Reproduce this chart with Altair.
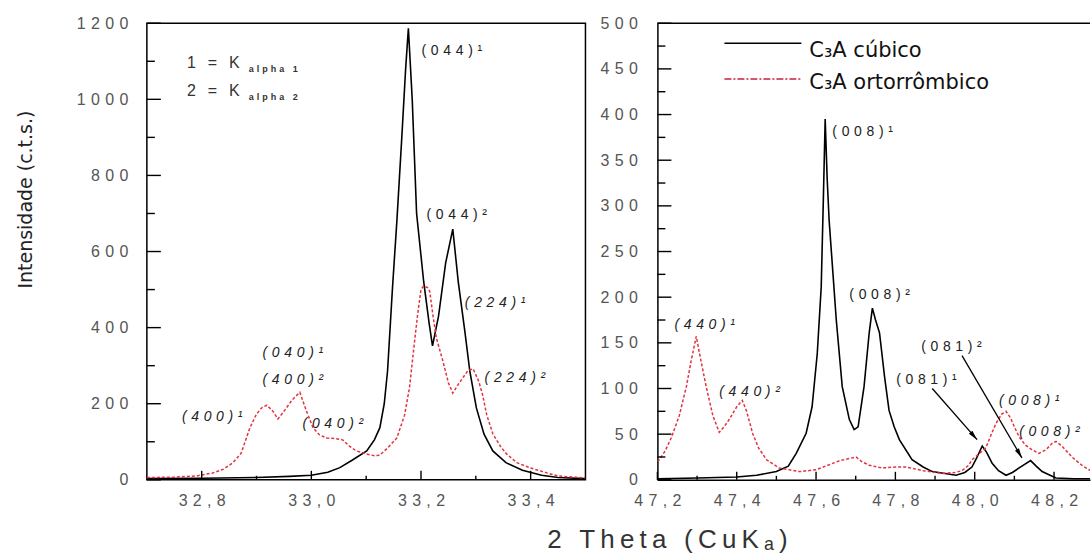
import math
import altair as alt
import pandas as pd

# ---------------- data ----------------
# left panel : 2theta 32.7 - 33.5
L_CUB_X = [32.70, 32.80, 32.90, 32.96, 33.00, 33.03, 33.052, 33.075, 33.101, 33.115, 33.125, 33.133,
           33.139, 33.148, 33.156, 33.165, 33.172, 33.177, 33.184, 33.192, 33.205, 33.215, 33.221,
           33.232, 33.245, 33.258, 33.268, 33.280, 33.289, 33.301, 33.315, 33.331, 33.355, 33.385,
           33.42, 33.45, 33.50]
L_CUB_Y = [3, 4, 6, 9, 12, 20, 32, 52, 76, 105, 137, 200,
           286, 504, 680, 900, 1080, 1187, 1000, 700, 520, 410, 352,
           430, 570, 659, 520, 390, 286, 189, 120, 76, 45, 25,
           12, 6, 3]
L_ORT_X = [32.70, 32.75, 32.79, 32.82, 32.84, 32.857, 32.872, 32.888, 32.900, 32.910, 32.919, 32.930,
           32.939, 32.950, 32.965, 32.979, 32.990, 33.003, 33.015, 33.028, 33.045, 33.057, 33.070,
           33.082, 33.101, 33.115, 33.125, 33.140, 33.156, 33.170, 33.179, 33.188, 33.194, 33.200,
           33.205, 33.212, 33.216, 33.222, 33.228, 33.240, 33.250, 33.258, 33.270, 33.285, 33.295,
           33.305, 33.312, 33.320, 33.331, 33.345, 33.356, 33.375, 33.398, 33.425, 33.45, 33.50]
L_ORT_Y = [6, 7, 10, 18, 28, 45, 70, 137, 173, 190, 196, 180,
           160, 180, 210, 230, 185, 137, 118, 110, 108, 105, 88,
           76, 68, 63, 65, 85, 110, 170, 242, 360, 436, 500,
           510, 505, 495, 430, 373, 312, 255, 228, 255, 286, 292,
           260, 226, 170, 121, 88, 68, 45, 32, 20, 10, 5]

# right panel : 2theta 47.2 - 48.3 (cropped on the right)
R_CUB_X = [47.20, 47.30, 47.40, 47.45, 47.50, 47.53, 47.55, 47.575, 47.59, 47.603, 47.613, 47.618,
           47.623, 47.628, 47.633, 47.651, 47.666, 47.684, 47.696, 47.706, 47.721, 47.734, 47.742,
           47.750, 47.760, 47.773, 47.784, 47.797, 47.810, 47.842, 47.87, 47.893, 47.953, 47.975,
           47.993, 48.005, 48.019, 48.030, 48.044, 48.060, 48.079, 48.095, 48.112, 48.141, 48.155,
           48.170, 48.190, 48.205, 48.25, 48.30]
R_CUB_Y = [1, 2, 3, 5, 9, 15, 29, 51, 80, 138, 211, 300,
           395, 330, 284, 175, 102, 66, 55, 58, 102, 161, 188,
           175, 161, 112, 76, 58, 44, 22, 14, 9, 5, 8,
           14, 24, 37, 30, 18, 10, 5, 8, 13, 21, 15,
           9, 5, 2, 1, 1]
R_ORT_X = [47.20, 47.205, 47.22, 47.235, 47.255, 47.273, 47.285, 47.298, 47.310, 47.323, 47.340, 47.356,
           47.368, 47.381, 47.400, 47.414, 47.425, 47.440, 47.455, 47.475, 47.507, 47.558, 47.600,
           47.630, 47.660, 47.701, 47.715, 47.734, 47.766, 47.800, 47.827, 47.870, 47.918, 47.950,
           47.968, 47.985, 47.993, 48.010, 48.028, 48.042, 48.054, 48.068, 48.079, 48.090, 48.100,
           48.112, 48.128, 48.144, 48.162, 48.180, 48.195, 48.205, 48.220, 48.245, 48.270, 48.288,
           48.30]
R_ORT_Y = [20, 22, 32, 46, 70, 102, 130, 157, 130, 102, 70, 52,
           58, 66, 80, 87, 75, 51, 35, 22, 13, 9, 11,
           16, 21, 25, 20, 16, 13, 14, 14, 10, 7, 8,
           10, 16, 22, 28, 35, 50, 62, 72, 75, 68, 58,
           47, 38, 33, 29, 33, 40, 42, 37, 25, 16, 11,
           9]

# axis ticks / labels
L_YT = [0, 200, 400, 600, 800, 1000, 1200]
L_YT_MINOR = [100, 300, 500, 700, 900, 1100]
L_XT = [32.8, 33.0, 33.2, 33.4]
L_XT_MINOR = [32.9, 33.1, 33.3]
R_YT = [0, 50, 100, 150, 200, 250, 300, 350, 400, 450, 500]
R_YT_MINOR = [25, 75, 125, 175, 225, 275, 325, 375, 425, 475]
R_XT = [47.2, 47.4, 47.6, 47.8, 48.0, 48.2]
R_XT_MINOR = [47.3, 47.5, 47.7, 47.9, 48.1]

# annotations
L_ANN_UP_TXT = ["(044)\u00b9", "(044)\u00b2"]
L_ANN_UP_X = [33.201, 33.210]
L_ANN_UP_Y = [1127, 696]
L_ANN_IT_TXT = ["(224)\u00b9", "(224)\u00b2", "(400)\u00b9", "(040)\u00b9", "(400)\u00b2", "(040)\u00b2"]
L_ANN_IT_X = [33.280, 33.316, 32.764, 32.911, 32.911, 32.984]
L_ANN_IT_Y = [465, 268, 165, 333, 263, 147]
K_TXT = ["1=K", "2=K"]
K_SUB = ["alpha 1", "alpha 2"]
K_X = [32.773, 32.773]
K_Y = [1095, 1021]
K_SUB_X = [32.886, 32.886]
K_SUB_Y = [1080, 1005]

R_ANN_UP_TXT = ["(008)\u00b9", "(008)\u00b2", "(081)\u00b2", "(081)\u00b9"]
R_ANN_UP_X = [47.641, 47.684, 47.865, 47.802]
R_ANN_UP_Y = [381, 202, 145, 109]
R_ANN_IT_TXT = ["(440)\u00b9", "(440)\u00b2", "(008)\u00b9", "(008)\u00b2"]
R_ANN_IT_X = [47.243, 47.356, 48.061, 48.112]
R_ANN_IT_Y = [169, 96, 86, 52]
ARROW_X1 = [47.893, 47.968]
ARROW_Y1 = [100, 136]
ARROW_X2 = [48.006, 48.119]
ARROW_Y2 = [44, 24]

LEG_LABELS = ["C\u2083A c\u00fabico", "C\u2083A  ortorr\u00f4mbico"]
LEG_X1, LEG_X2 = 47.369, 47.563
LEG_LINE_Y = [478, 439]
LEG_TXT_X = 47.583
LEG_TXT_Y = [463, 428]

# ---------------- layout ----------------
W1, W2, H = 439, 433, 457
L_DOM = [32.7, 33.5]
R_DOM = [47.2, 47.2 + W2 / 397.0]
L_YDOM = [0, 1200]
R_YDOM = [0, 500]

RED = "#e4323f"
SP3 = "\u2004"
SPK = "\u2002\u2005"
THIN = "\u2009"


def spaced(s, sp):
    return sp.join(list(s))


def label_expr(values, texts):
    e = "''"
    for v, t in zip(values[::-1], texts[::-1]):
        e = f"(abs(datum.value - {v}) < 0.0001) ? '{t}' : ({e})"
    return e


COMMON = dict(ticks=False, tickSize=0, grid=False, labelFlush=False, labelOverlap=False,
              labelFont="Liberation Sans", labelFontSize=16, labelColor="#555555")

# ---------------- axes (same spec given to every layer of a panel) ----------------
L_YAXIS = alt.Axis(values=L_YT, labelExpr=label_expr(L_YT, [spaced(str(v), SP3) for v in L_YT]),
                   domain=False, labelPadding=19,
                   title="Intensidade (c.t.s.)", titleFont="DejaVu Sans", titleFontSize=19,
                   titleFontWeight="normal", titleColor="#222222", titleAngle=270,
                   titleX=-121, titleY=176, titleAlign="center", titleBaseline="middle", **COMMON)
L_XAXIS = alt.Axis(values=L_XT,
                   labelExpr=label_expr(L_XT, [spaced(f"{v:.1f}".replace(".", ","), SP3) for v in L_XT]),
                   domain=False, labelPadding=13, title="", **COMMON)
R_YAXIS = alt.Axis(values=R_YT, labelExpr=label_expr(R_YT, [spaced(str(v), SP3) for v in R_YT]),
                   domain=True, domainColor="black", domainWidth=1.5, labelPadding=20, title="", **COMMON)
R_XAXIS = alt.Axis(values=R_XT,
                   labelExpr=label_expr(R_XT, [spaced(f"{v:.1f}".replace(".", ","), SP3) for v in R_XT]),
                   domain=True, domainColor="black", domainWidth=1.5, labelPadding=13, title="", **COMMON)


def mk(side):
    if side == "L":
        xd, yd, xa, ya = L_DOM, L_YDOM, L_XAXIS, L_YAXIS
    else:
        xd, yd, xa, ya = R_DOM, R_YDOM, R_XAXIS, R_YAXIS

    def xe(field="x"):
        return alt.X(f"{field}:Q", scale=alt.Scale(domain=xd, nice=False, zero=False), axis=xa)

    def ye(field="y"):
        return alt.Y(f"{field}:Q", scale=alt.Scale(domain=yd, nice=False, zero=False), axis=ya)
    return xe, ye


def tick_rules(xe, ye, ymaj, ymin, xmaj, xmin, major_len_y, minor_len_y, major_len_x, minor_len_x):
    layers = []
    for vals, ln in [(ymaj, major_len_y), (ymin, minor_len_y)]:
        df = pd.DataFrame({"y": vals})
        layers.append(alt.Chart(df).mark_rule(color="black", strokeWidth=1.4).encode(
            y=ye(), x=alt.value(0), x2=alt.value(ln)))
    for vals, ln in [(xmaj, major_len_x), (xmin, minor_len_x)]:
        df = pd.DataFrame({"x": vals})
        layers.append(alt.Chart(df).mark_rule(color="black", strokeWidth=1.4).encode(
            x=xe(), y=alt.value(H), y2=alt.value(H - ln)))
    return layers


def text_layer(xe, ye, xs, ys, ts, size, italic=False, font="Liberation Sans", color="#222222",
               weight="normal", baseline="middle"):
    df = pd.DataFrame({"x": xs, "y": ys, "t": ts})
    kw = dict(align="left", baseline=baseline, font=font, fontSize=size, color=color, fontWeight=weight)
    if italic:
        kw["fontStyle"] = "italic"
    return alt.Chart(df).mark_text(**kw).encode(x=xe(), y=ye(), text="t:N")


# ---------------- left panel ----------------
lx, ly = mk("L")
l_cub = alt.Chart(pd.DataFrame({"x": L_CUB_X, "y": L_CUB_Y})).mark_line(
    color="black", strokeWidth=1.6, clip=True).encode(x=lx(), y=ly())
l_ort = alt.Chart(pd.DataFrame({"x": L_ORT_X, "y": L_ORT_Y})).mark_line(
    color=RED, strokeWidth=1.5, strokeDash=[3, 2], clip=True).encode(x=lx(), y=ly())

left = alt.layer(
    l_cub, l_ort,
    *tick_rules(lx, ly, L_YT, L_YT_MINOR, L_XT, L_XT_MINOR, 14, 8, 9, 4),
    text_layer(lx, ly, L_ANN_UP_X, L_ANN_UP_Y, [spaced(t, SP3) for t in L_ANN_UP_TXT], 14),
    text_layer(lx, ly, L_ANN_IT_X, L_ANN_IT_Y, [spaced(t, SP3) for t in L_ANN_IT_TXT], 14, italic=True),
    text_layer(lx, ly, K_X, K_Y, [spaced(t, SPK) for t in K_TXT], 16, color="#333333"),
    text_layer(lx, ly, K_SUB_X, K_SUB_Y, [spaced(t, SP3) for t in K_SUB], 9, color="#333333",
               weight="bold"),
).properties(width=W1, height=H, view=alt.ViewBackground(stroke="black", strokeWidth=1.5))

# ---------------- right panel ----------------
rx, ry = mk("R")
r_cub = alt.Chart(pd.DataFrame({"x": R_CUB_X, "y": R_CUB_Y})).mark_line(
    color="black", strokeWidth=1.6, clip=True).encode(x=rx(), y=ry())
r_ort = alt.Chart(pd.DataFrame({"x": R_ORT_X, "y": R_ORT_Y})).mark_line(
    color=RED, strokeWidth=1.5, strokeDash=[3, 2], clip=True).encode(x=rx(), y=ry())
top_line = alt.Chart(pd.DataFrame({"y": [R_YDOM[1]]})).mark_rule(color="black", strokeWidth=1.5).encode(
    y=ry(), x=alt.value(0), x2=alt.value(W2))

sx2 = W2 / (R_DOM[1] - R_DOM[0])
sy2 = H / (R_YDOM[1] - R_YDOM[0])
angles = []
for x1, y1, x2, y2 in zip(ARROW_X1, ARROW_Y1, ARROW_X2, ARROW_Y2):
    dx = (x2 - x1) * sx2
    dy = -(y2 - y1) * sy2
    angles.append(math.degrees(math.atan2(dx, -dy)) % 360)
df_ar = pd.DataFrame({"x": ARROW_X1, "y": ARROW_Y1, "xe": ARROW_X2, "ye": ARROW_Y2, "ang": angles})
r_arrow = alt.Chart(df_ar).mark_rule(color="black", strokeWidth=1.3).encode(
    x=rx(), y=ry(), x2="xe:Q", y2="ye:Q")
r_head = alt.Chart(df_ar).mark_point(shape="M0,0L0.38,1.6L-0.38,1.6Z", filled=True, color="black",
                                     opacity=1, size=150).encode(
    x=rx("xe"), y=ry("ye"), angle=alt.Angle("ang:Q", scale=None))

leg_b = alt.Chart(pd.DataFrame({"x": [LEG_X1], "x2": [LEG_X2], "y": [LEG_LINE_Y[0]]})).mark_rule(
    color="black", strokeWidth=1.6).encode(x=rx(), x2="x2:Q", y=ry())
leg_r = alt.Chart(pd.DataFrame({"x": [LEG_X1], "x2": [LEG_X2], "y": [LEG_LINE_Y[1]]})).mark_rule(
    color="#c8203c", strokeWidth=1.6, strokeDash=[7, 2, 2, 2]).encode(x=rx(), x2="x2:Q", y=ry())

xtitle = alt.Chart(pd.DataFrame({"t": [spaced("2 Theta (CuK\u2090)", THIN)]})).mark_text(
    align="center", baseline="alphabetic", font="Liberation Sans", fontSize=26, color="#333333").encode(
    x=alt.value(668 - 658), y=alt.value(547 - 22), text="t:N")

right = alt.layer(
    r_cub, r_ort, top_line,
    *tick_rules(rx, ry, R_YT, R_YT_MINOR, R_XT, R_XT_MINOR, 14, 8, 8, 4),
    text_layer(rx, ry, R_ANN_UP_X, R_ANN_UP_Y, [spaced(t, SP3) for t in R_ANN_UP_TXT], 14),
    text_layer(rx, ry, R_ANN_IT_X, R_ANN_IT_Y, [spaced(t, SP3) for t in R_ANN_IT_TXT], 14, italic=True),
    r_arrow, r_head, leg_b, leg_r,
    text_layer(rx, ry, [LEG_TXT_X, LEG_TXT_X], LEG_TXT_Y, LEG_LABELS, 21, font="DejaVu Sans",
               color="#111111", baseline="alphabetic"),
    xtitle,
).properties(width=W2, height=H, view=alt.ViewBackground(stroke="transparent"))

chart = alt.hconcat(left, right, spacing=72, bounds="flush").properties(
    padding={"left": 16, "top": 14, "right": 0, "bottom": 0},
    background="white",
).configure_view(stroke="transparent")

chart.save("out.html", embed_options={"renderer": "svg", "actions": False})
